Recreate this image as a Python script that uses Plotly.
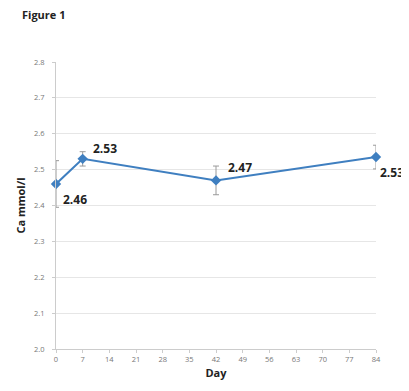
import plotly.graph_objects as go

days = [0, 7, 42, 84]
ca_values = [2.46, 2.53, 2.47, 2.535]
ca_errors = [0.065, 0.02, 0.04, 0.033]
value_labels = ["2.46", "2.53", "2.47", "2.53"]
x_ticks = [0, 7, 14, 21, 28, 35, 42, 49, 56, 63, 70, 77, 84]
y_ticks = [2.0, 2.1, 2.2, 2.3, 2.4, 2.5, 2.6, 2.7, 2.8]

label_offsets = [(5, -16), (8, 10), (10, 13), (2, -15)]

fig = go.Figure()
fig.add_trace(go.Scatter(
    x=days, y=ca_values, mode="lines+markers",
    line=dict(color="#3f7fc0", width=2),
    marker=dict(symbol="diamond", size=8, color="#3f7fc0"),
    error_y=dict(type="data", array=ca_errors, visible=True,
                 color="#9a9a9a", thickness=1, width=3),
    cliponaxis=False, showlegend=False,
))

for d, v, t, (dx, dy) in zip(days, ca_values, value_labels, label_offsets):
    fig.add_annotation(x=d, y=v, text=t, showarrow=False,
                       xanchor="left", yanchor="middle",
                       xshift=dx, yshift=dy,
                       font=dict(family="Open Sans, Arial", size=12, color="#222222", weight="bold"))

fig.add_annotation(xref="paper", yref="paper", x=-0.113, y=1.164, xanchor="left", yanchor="middle",
                   text="<b>Figure 1</b>", showarrow=False,
                   font=dict(family="Open Sans, Arial", size=11, color="#222222"))

fig.update_layout(
    width=409, height=391,
    margin=dict(l=42, r=41, t=54, b=50),
    paper_bgcolor="white", plot_bgcolor="white",
    font=dict(family="Open Sans, Arial", color="#555555"),
)
fig.update_xaxes(
    range=[0, 84], tickvals=x_ticks, ticktext=[str(t) for t in x_ticks],
    showgrid=False, showline=True, linecolor="#cccccc", linewidth=1,
    ticks="outside", ticklen=3, tickcolor="#cccccc",
    tickfont=dict(size=7.5, color="#777777"),
    title=dict(text="<b>Day</b>", font=dict(size=11, color="#222222"), standoff=6),
    zeroline=False,
)
fig.update_yaxes(
    range=[2.0, 2.8], tickvals=y_ticks, ticktext=[f"{t:.1f}" for t in y_ticks],
    showgrid=True, gridcolor="#e6e6e6", gridwidth=1,
    showline=True, linecolor="#cccccc", linewidth=1,
    ticks="outside", ticklen=3, tickcolor="#cccccc",
    tickfont=dict(size=7.5, color="#777777"),
    ticklabelstandoff=6,
    title=dict(text="<b>Ca mmol/l</b>", font=dict(size=11, color="#222222"), standoff=6),
    zeroline=False,
)

fig.write_html("out.html")
